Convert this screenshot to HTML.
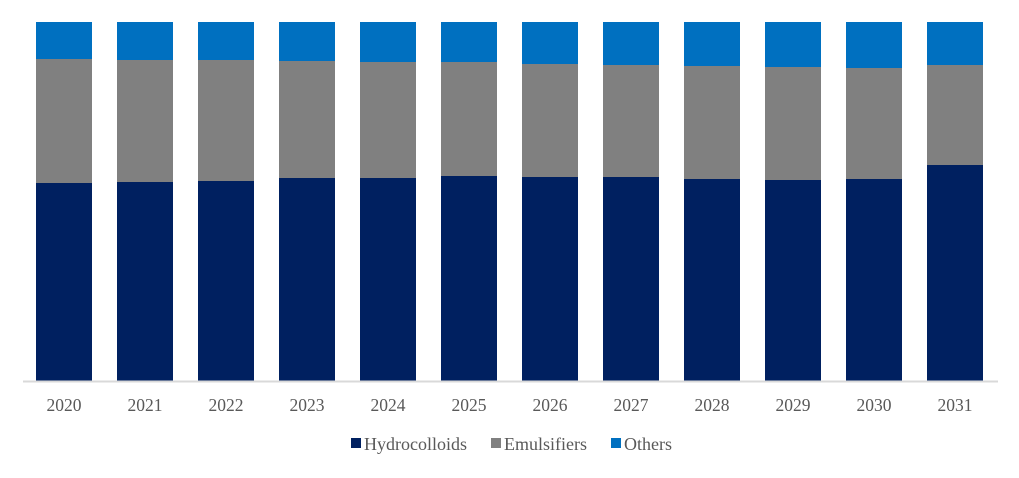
<!DOCTYPE html>
<html><head><style>
body{margin:0;background:#fff;}
svg text{font-family:"Liberation Serif",serif;fill:#595959;}
</style></head><body>
<svg width="1019" height="473" xmlns="http://www.w3.org/2000/svg">
<g id="bars"></g>
<line x1="23" y1="381.5" x2="998" y2="381.5" stroke="#d9d9d9" stroke-width="2"/>
<g font-size="17.5" text-anchor="middle">
<text x="64" y="411">2020</text><text x="145" y="411">2021</text><text x="226" y="411">2022</text><text x="307" y="411">2023</text><text x="388" y="411">2024</text><text x="469" y="411">2025</text><text x="550" y="411">2026</text><text x="631" y="411">2027</text><text x="712" y="411">2028</text><text x="793" y="411">2029</text><text x="874" y="411">2030</text><text x="955" y="411">2031</text>
</g>
<rect x="351" y="438" width="10" height="10" fill="#002060"/>
<text x="364" y="450" font-size="18">Hydrocolloids</text>
<rect x="491" y="438" width="10" height="10" fill="#808080"/>
<text x="504" y="450" font-size="18">Emulsifiers</text>
<rect x="611" y="438" width="10" height="10" fill="#0070C0"/>
<text x="624" y="450" font-size="18">Others</text>
</svg>
<script>
var d=[[59,183],[60,182],[60,181],[61,178],[62,178],[62,176],[64,177],[65,177],[66,179],[67,180],[68,179],[65,165]];
var g=document.getElementById('bars'),s='';
d.forEach(function(v,i){var x=36+i*81;
s+='<rect x="'+x+'" y="22" width="56" height="'+(v[0]-22)+'" fill="#0070C0"/>';
s+='<rect x="'+x+'" y="'+v[0]+'" width="56" height="'+(v[1]-v[0])+'" fill="#808080"/>';
s+='<rect x="'+x+'" y="'+v[1]+'" width="56" height="'+(381-v[1])+'" fill="#002060"/>';});
g.innerHTML=s;
</script>
</body></html>
